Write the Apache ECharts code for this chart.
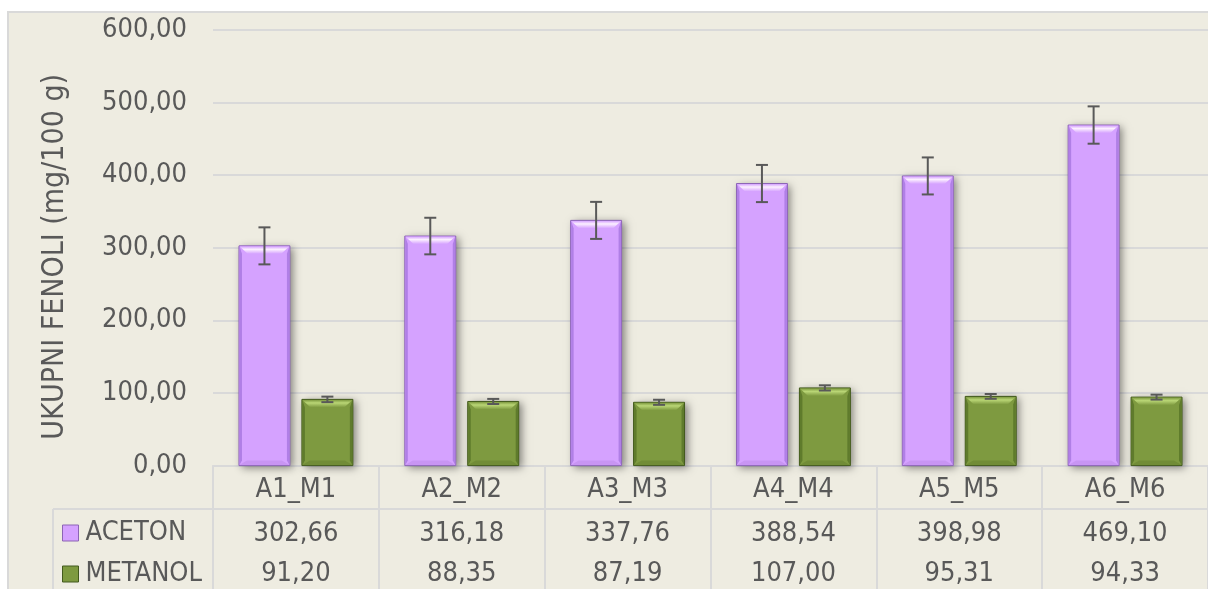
<!DOCTYPE html>
<html>
<head>
<meta charset="utf-8">
<script src="https://cdn.jsdelivr.net/npm/echarts@6/dist/echarts.min.js"></script>
<style>
html,body{margin:0;padding:0;background:#ffffff;}
#chart{width:1208px;height:589px;}
</style>
</head>
<body>
<div id="chart"></div>
<script>
const categories = ['A1_M1', 'A2_M2', 'A3_M3', 'A4_M4', 'A5_M5', 'A6_M6'];
const aceton = [302.66, 316.18, 337.76, 388.54, 398.98, 469.10];
const metanol = [91.20, 88.35, 87.19, 107.00, 95.31, 94.33];
const acetonErr = [25.5, 25.2, 25.5, 25.6, 25.5, 25.7];
const metanolErr = [3.8, 3.5, 3.5, 3.6, 3.3, 3.4];
const seriesNames = ['ACETON', 'METANOL'];
const yTicks = { min: 0, max: 600, interval: 100 };

const FONT = '"DejaVu Sans Condensed", "DejaVu Sans", sans-serif';
const TXT = '#595959';
const LINE = '#D9D9D9';

const fmt = v => v.toFixed(2).replace('.', ',');

const palette = {
  ACETON: { main: '#D5A2FF', dark: '#B07FE6', edge: '#8C65B5', light: '#FCF0FF', bottom: '#C895F3' },
  METANOL: { main: '#7E9A40', dark: '#5F7B2C', edge: '#435A1E', light: '#BAD676', bottom: '#718C37' }
};

function makeRender(sign, pal) {
  return function (params, api) {
    const ci = api.value(0), v = api.value(1), err = api.value(2);
    const base = api.coord([ci, 0]);
    const top = api.coord([ci, v]);
    const band = api.size([1, 0])[0];
    const bw = band * 51 / 166;
    const gap = band * 12 / 166;
    const cx = base[0] + sign * (bw / 2 + gap / 2);
    const x0 = cx - bw / 2, x1 = cx + bw / 2;
    const y0 = top[1], y1 = base[1];
    const h = y1 - y0;
    const bt = Math.min(8, h / 3), bs = 3, bb = Math.min(5, h / 4);
    const eTop = api.coord([ci, v + err])[1];
    const eBot = api.coord([ci, v - err])[1];
    const cap = 6;
    return {
      type: 'group',
      children: [
        { type: 'rect', shape: { x: x0, y: y0, width: bw, height: h },
          style: { fill: pal.main, shadowBlur: 8, shadowColor: 'rgba(0,0,0,0.45)', shadowOffsetX: 3, shadowOffsetY: 2 } },
        { type: 'rect', shape: { x: x0, y: y0, width: bw, height: h },
          style: { fill: pal.main, stroke: pal.edge, lineWidth: 1 } },
        { type: 'polygon', shape: { points: [[x0 + 0.5, y0 + 0.5], [x0 + bs, y0 + bt], [x0 + bs, y1 - bb], [x0 + 0.5, y1 - 0.5]] },
          style: { fill: pal.dark } },
        { type: 'polygon', shape: { points: [[x1 - 0.5, y0 + 0.5], [x1 - bs, y0 + bt], [x1 - bs, y1 - bb], [x1 - 0.5, y1 - 0.5]] },
          style: { fill: pal.dark } },
        { type: 'polygon', shape: { points: [[x0 + 0.5, y0 + 0.5], [x1 - 0.5, y0 + 0.5], [x1 - bs - bt * 0.7, y0 + bt], [x0 + bs + bt * 0.7, y0 + bt]] },
          style: { fill: new echarts.graphic.LinearGradient(0, 0, 0, 1, [
            { offset: 0, color: pal.main }, { offset: 0.4, color: pal.light }, { offset: 1, color: pal.main }]) } },
        { type: 'polygon', shape: { points: [[x0 + bs + bb, y1 - bb], [x1 - bs - bb, y1 - bb], [x1 - 0.5, y1 - 0.5], [x0 + 0.5, y1 - 0.5]] },
          style: { fill: pal.bottom } },
        { type: 'line', shape: { x1: cx, y1: eTop, x2: cx, y2: eBot }, style: { stroke: TXT, lineWidth: 2 } },
        { type: 'line', shape: { x1: cx - cap, y1: eTop, x2: cx + cap, y2: eTop }, style: { stroke: TXT, lineWidth: 2 } },
        { type: 'line', shape: { x1: cx - cap, y1: eBot, x2: cx + cap, y2: eBot }, style: { stroke: TXT, lineWidth: 2 } }
      ]
    };
  };
}

const chart = echarts.init(document.getElementById('chart'), null, { renderer: 'canvas' });

const gridTop = 30, gridBottomPx = 465.6;

const legendBase = {
  orient: 'horizontal', left: 62, padding: 0,
  itemWidth: 16, itemHeight: 16, itemGap: 10,
  icon: 'rect', selectedMode: false,
  textStyle: { fontFamily: FONT, fontSize: 27, color: TXT, lineHeight: 30, padding: [0, 0, 0, 2] }
};

const option = {
  animation: false,
  backgroundColor: '#ffffff',
  textStyle: { fontFamily: FONT },
  graphic: [
    { type: 'rect', z: -10, shape: { x: 8, y: 12, width: 1215, height: 600 },
      style: { fill: '#EEECE1', stroke: '#D9D9D9', lineWidth: 2 } },
    { type: 'line', z: 1, shape: { x1: 53, y1: 509, x2: 1208, y2: 509 }, style: { stroke: LINE, lineWidth: 2 } },
    { type: 'line', z: 1, shape: { x1: 53, y1: 509, x2: 53, y2: 600 }, style: { stroke: LINE, lineWidth: 2 } }
  ],
  grid: { left: 213, right: 0, top: gridTop, bottom: 589 - gridBottomPx, containLabel: false },
  legend: [
    Object.assign({}, legendBase, { top: 518,
      data: [{ name: seriesNames[0], itemStyle: { color: palette.ACETON.main, borderColor: palette.ACETON.edge, borderWidth: 1 } }] }),
    Object.assign({}, legendBase, { top: 559,
      data: [{ name: seriesNames[1], itemStyle: { color: palette.METANOL.main, borderColor: palette.METANOL.edge, borderWidth: 1 } }] })
  ],
  xAxis: [
    { type: 'category', data: categories, position: 'bottom', boundaryGap: true,
      axisLine: { show: true, lineStyle: { color: LINE, width: 2 } },
      axisTick: { show: true, inside: false, length: 130, interval: 0, lineStyle: { color: LINE, width: 2 } },
      axisLabel: { margin: 11, fontSize: 27, color: TXT, fontFamily: FONT, interval: 0 },
      splitLine: { show: false } },
    { type: 'category', data: aceton.map(fmt), position: 'bottom', offset: 43.5,
      axisLine: { show: false }, axisTick: { show: false },
      axisLabel: { margin: 11, fontSize: 27, color: TXT, fontFamily: FONT, interval: 0 } },
    { type: 'category', data: metanol.map(fmt), position: 'bottom', offset: 84,
      axisLine: { show: false }, axisTick: { show: false },
      axisLabel: { margin: 11, fontSize: 27, color: TXT, fontFamily: FONT, interval: 0 } }
  ],
  yAxis: {
    type: 'value', min: yTicks.min, max: yTicks.max, interval: yTicks.interval,
    name: 'UKUPNI FENOLI (mg/100 g)', nameLocation: 'middle', nameGap: 143,
    nameTextStyle: { fontSize: 30, color: TXT, fontFamily: FONT, padding: [0, 18, 0, 0] },
    axisLine: { show: false }, axisTick: { show: false },
    axisLabel: { margin: 26, fontSize: 27, color: TXT, fontFamily: FONT, formatter: fmt, padding: [6, 0, 0, 0] },
    splitLine: { show: true, lineStyle: { color: LINE, width: 2 } }
  },
  series: [
    { name: seriesNames[0], type: 'custom', xAxisIndex: 0, yAxisIndex: 0,
      itemStyle: { color: palette.ACETON.main },
      renderItem: makeRender(-1, palette.ACETON),
      encode: { x: 0, y: 1 },
      data: aceton.map((v, i) => [i, v, acetonErr[i]]) },
    { name: seriesNames[1], type: 'custom', xAxisIndex: 0, yAxisIndex: 0,
      itemStyle: { color: palette.METANOL.main },
      renderItem: makeRender(1, palette.METANOL),
      encode: { x: 0, y: 1 },
      data: metanol.map((v, i) => [i, v, metanolErr[i]]) }
  ]
};
chart.setOption(option);
</script>
</body>
</html>
